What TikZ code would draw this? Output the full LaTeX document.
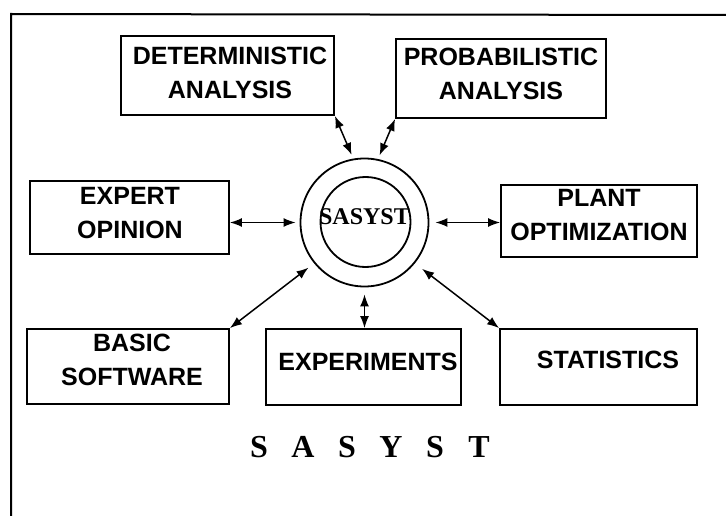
\documentclass[tikz,border=0pt]{standalone}
\usepackage{fontspec}
\setmainfont{Liberation Sans}
\newfontfamily\serifface{Liberation Serif}
\usetikzlibrary{arrows.meta}
\begin{document}
\begin{tikzpicture}[x=1pt,y=-1pt,
  box/.style={draw, line width=1.8pt, inner sep=0pt},
  lbl/.style={align=center, inner sep=0pt, font=\fontsize{25}{34}\selectfont\bfseries},
  ring/.style={draw, circle, line width=1.8pt, inner sep=0pt},
  link/.style={line width=1.5pt, {Latex[length=12pt,width=9pt]}-{Latex[length=12pt,width=9pt]}}]
\useasboundingbox (0,0) rectangle (726,516);
% frame
\draw[line width=2pt] (726,15) -- (11,14) -- (11,516);
% boxes
\node[box, minimum width=213pt, minimum height=79pt] (det) at (227.5,75.5) {};
\node[box, minimum width=210pt, minimum height=79pt] (prob) at (501,78.5) {};
\node[box, minimum width=199pt, minimum height=73pt] (expert) at (129.5,217.5) {};
\node[box, minimum width=196pt, minimum height=72pt] (plant) at (599,221) {};
\node[box, minimum width=202pt, minimum height=75pt] (basic) at (128,366.5) {};
\node[box, minimum width=195pt, minimum height=76pt] (exper) at (363.5,367) {};
\node[box, minimum width=197pt, minimum height=76pt] (stat) at (598.5,367) {};
% labels
\node[lbl] (detl) at (230,72.5) {DETERMINISTIC\\ANALYSIS};
\node[lbl] (probl) at (501,74) {PROBABILISTIC\\ANALYSIS};
\node[lbl] (expertl) at (130,213.5) {EXPERT\\OPINION};
\node[lbl] (plantl) at (599,215.5) {PLANT\\OPTIMIZATION};
\node[lbl] (basicl) at (132,359.5) {BASIC\\SOFTWARE};
\node[lbl] (experl) at (368,362) {EXPERIMENTS};
\node[lbl] (statl) at (608,360) {STATISTICS};
% centre
\node[ring, minimum size=128pt] (outer) at (364.5,222.5) {};
\node[ring, minimum size=90pt] (inner) at (365.5,222) {};
\node[inner sep=0pt, font=\serifface\bfseries\fontsize{24}{28}\selectfont] (core) at (364.5,217) {SASYST};
% connectors
\draw[link, shorten >=4pt] (det.south east) -- (outer.100);
\draw[link, shorten >=4pt] (prob.south west) -- (outer.78);
\draw[link, shorten >=4pt] (expert.east |- outer.west) -- (outer.west);
\draw[link, shorten <=6pt] (outer.east) -- (plant.west |- outer.east);
\draw[link, shorten >=7pt] (basic.north east) -- (outer.219);
\draw[link, shorten <=7pt] (outer.south) -- (outer.south |- exper.north);
\draw[link, shorten >=9pt] (stat.north west) -- (outer.-39);
% title
\node[inner sep=0pt, font=\serifface\bfseries\fontsize{32}{36}\selectfont] (title) at (369,447)
  {\makebox[44pt]{S}\makebox[44pt]{A}\makebox[44pt]{S}\makebox[44pt]{Y}\makebox[44pt]{S}\makebox[44pt]{T}};
\end{tikzpicture}
\end{document}
